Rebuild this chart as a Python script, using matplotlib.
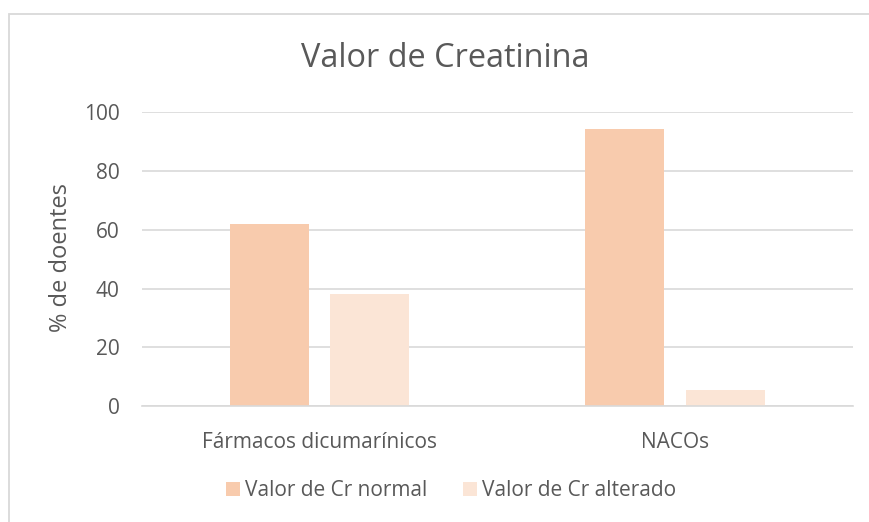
import matplotlib
matplotlib.use("Agg")
import matplotlib.pyplot as plt
from matplotlib.patches import Rectangle
import numpy as np

categories = ["Fármacos dicumarínicos", "NACOs"]
series_names = ["Valor de Cr normal", "Valor de Cr alterado"]
normal = [62, 94.4]
alterado = [38, 5.6]
yticks = [0, 20, 40, 60, 80, 100]

colors = ["#F8CBAD", "#FBE5D6"]
text_color = "#595959"
grid_color = "#D9D9D9"

plt.rcParams['font.family'] = ['Open Sans', 'DejaVu Sans']

W, H = 870, 522
fig = plt.figure(figsize=(W/100, H/100), dpi=100)
fig.patch.set_facecolor("white")
# chart border (left and top edges visible)
fig.add_artist(Rectangle((9/W, -0.02), 1.05, 1 - 13.5/H + 0.02, transform=fig.transFigure,
                         fill=False, edgecolor="#D9D9D9", linewidth=1.3))

ax = fig.add_axes([141.7/W, 1 - 406/H, (852.7 - 141.7)/W, (406 - 112.3)/H])
x = np.arange(len(categories))
w = 0.222
off = 0.1415
ax.bar(x - off, normal, width=w, color=colors[0], label=series_names[0], zorder=2)
ax.bar(x + off, alterado, width=w, color=colors[1], label=series_names[1], zorder=2)

ax.set_xlim(-0.5, 1.5)
ax.set_ylim(0, 100)
ax.set_yticks(yticks)
ax.set_xticks(x)
ax.set_xticklabels(categories)
ax.yaxis.grid(True, color=grid_color, linewidth=1.2, zorder=0)
ax.set_axisbelow(True)
for s in ["top", "right", "left"]:
    ax.spines[s].set_visible(False)
ax.spines["bottom"].set_color(grid_color)
ax.spines["bottom"].set_linewidth(1.2)
ax.tick_params(axis="both", length=0, colors=text_color, labelsize=15)
ax.tick_params(axis="y", pad=16.0)
ax.tick_params(axis="x", pad=19)

fig.text(61.5/W, 1 - 258/H, "% de doentes", rotation=90, ha="center", va="center",
         color=text_color, fontsize=17)
fig.text(445/W, 1 - 66.7/H, "Valor de Creatinina", ha="center", va="baseline",
         color=text_color, fontsize=23.4)

handles, labels = ax.get_legend_handles_labels()
leg = fig.legend(handles, labels, loc="center", bbox_to_anchor=(451/W, 1 - 490.5/H), ncol=2,
                 frameon=False, fontsize=15, handlelength=0.67, handleheight=0.67,
                 handletextpad=0.25, columnspacing=1.7, borderpad=0, borderaxespad=0)
for t in leg.get_texts():
    t.set_color(text_color)

fig.savefig("out.png", dpi=100, facecolor="white")
